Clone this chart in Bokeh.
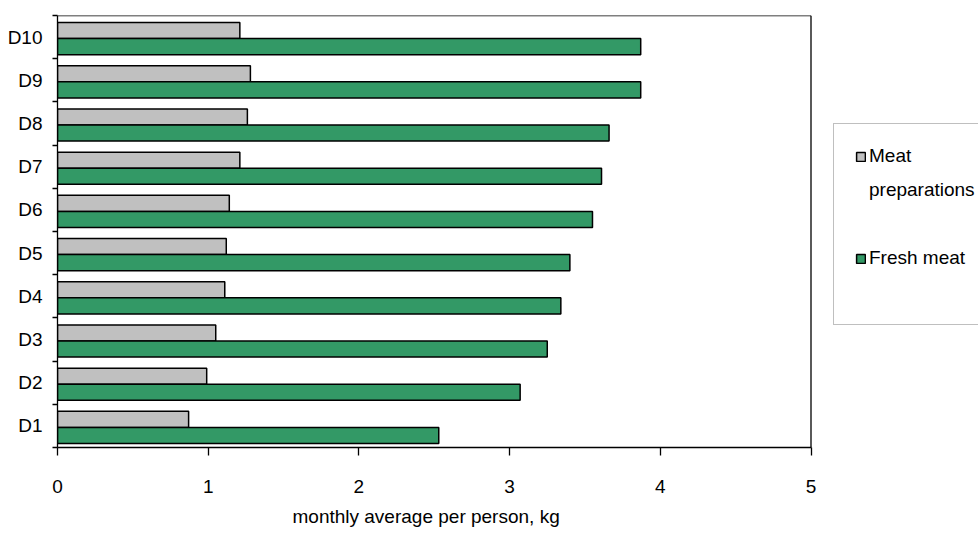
from bokeh.plotting import figure
from bokeh.models import FixedTicker, Legend, LegendItem, ColumnDataSource, Range1d, Title
from bokeh.embed import file_html
from bokeh.resources import INLINE

# ---- data ----
categories = ["D1", "D2", "D3", "D4", "D5", "D6", "D7", "D8", "D9", "D10"]
meat_preparations = [0.87, 0.99, 1.05, 1.11, 1.12, 1.14, 1.21, 1.26, 1.28, 1.21]
fresh_meat = [2.53, 3.07, 3.25, 3.34, 3.40, 3.55, 3.61, 3.66, 3.87, 3.87]
x_ticks = [0, 1, 2, 3, 4, 5]
series_names = ["Meat preparations", "Fresh meat"]
x_label = "monthly average per person, kg"

# ---- styling / layout ----
FONT = "Liberation Sans"
FS = "19px"
GRAY = "#C0C0C0"
GREEN = "#339966"
BAR_H = 0.3725
W, H = 978, 534
LEFT, TOP, BOTTOM = 57, 15, 85
AXIS_RIGHT_PX = 810.5          # where the value axis ends (x = 5)
x_min, x_max = x_ticks[0], x_ticks[-1]
n = len(categories)
# the frame runs to the right edge so the legend box can sit beside the axis
x_end = x_max * (W - LEFT) / (AXIS_RIGHT_PX - LEFT)

idx = list(range(n))
src = ColumnDataSource(dict(
    cat=categories,
    y_prep=[i + 1 - 0.349 for i in idx],
    y_fresh=[i + 1 - 0.7215 for i in idx],
    prep=meat_preparations,
    fresh=fresh_meat,
))

p = figure(width=W, height=H, output_backend="svg", toolbar_location=None,
           x_range=Range1d(x_min, x_end), y_range=Range1d(0, n),
           min_border_left=LEFT, min_border_right=0, min_border_top=TOP,
           min_border_bottom=BOTTOM)

p.xgrid.visible = False
p.ygrid.visible = False
p.outline_line_color = None
p.background_fill_color = "white"
p.border_fill_color = "white"

# plot-area border (top and right) limited to the value axis extent
p.segment(x0=[x_min, x_max], y0=[n, 0], x1=[x_max, x_max], y1=[n, n],
          line_color="black", line_width=1.3)

r_prep = p.hbar(y="y_prep", left=0, right="prep", height=BAR_H, source=src,
                fill_color=GRAY, line_color="black", line_width=1.5)
r_fresh = p.hbar(y="y_fresh", left=0, right="fresh", height=BAR_H, source=src,
                 fill_color=GREEN, line_color="black", line_width=1.5)
spacer = p.hbar(y=[], right=[], height=0.1, fill_alpha=0, line_alpha=0)

# x axis (bounded to 0..5)
xa = p.xaxis[0]
xa.bounds = (x_min, x_max)
xa.ticker = FixedTicker(ticks=x_ticks, minor_ticks=[])
xa.major_tick_out = 8
xa.major_tick_in = 0
xa.major_tick_line_color = "black"
xa.major_tick_line_width = 1.3
xa.axis_line_color = "black"
xa.axis_line_width = 1.3
xa.major_label_text_font = FONT
xa.major_label_text_font_size = FS
xa.major_label_text_color = "black"
xa.major_label_standoff = 24

# x-axis title, centred under the 0..5 value axis
p.add_layout(Title(text=x_label, align="left", offset=235, standoff=16,
                   text_font=FONT, text_font_size=FS, text_font_style="normal",
                   text_color="black"), "below")

# y axis: labels at band centres, ticks at band boundaries
ya = p.yaxis[0]
ya.ticker = FixedTicker(ticks=[i + 0.5 for i in idx],
                        minor_ticks=[i for i in range(n + 1)])
ya.major_label_overrides = {i + 0.5: c for i, c in zip(idx, categories)}
ya.major_tick_out = 0
ya.major_tick_in = 0
ya.minor_tick_out = 5
ya.minor_tick_in = 0
ya.minor_tick_line_color = "black"
ya.minor_tick_line_width = 1.3
ya.axis_line_color = "black"
ya.axis_line_width = 1.3
ya.major_label_text_font = FONT
ya.major_label_text_font_size = FS
ya.major_label_text_color = "black"
ya.major_label_standoff = 10

# legend
first, rest = series_names[0].split(" ", 1)
items = [
    LegendItem(label=first, renderers=[r_prep]),
    LegendItem(label=rest, renderers=[spacer]),
    LegendItem(label=" ", renderers=[spacer]),
    LegendItem(label=series_names[1], renderers=[r_fresh]),
    LegendItem(label=" ", renderers=[spacer]),
]
legend = Legend(items=items, location=(776, 122), margin=0, padding=21, spacing=12,
                glyph_width=11, glyph_height=11, label_standoff=3,
                label_height=22,
                label_text_font=FONT, label_text_font_size=FS,
                label_text_color="black",
                border_line_color="#808080", border_line_width=1,
                background_fill_color="white", background_fill_alpha=1)
p.add_layout(legend)

open("out.html", "w").write(file_html(p, INLINE))
